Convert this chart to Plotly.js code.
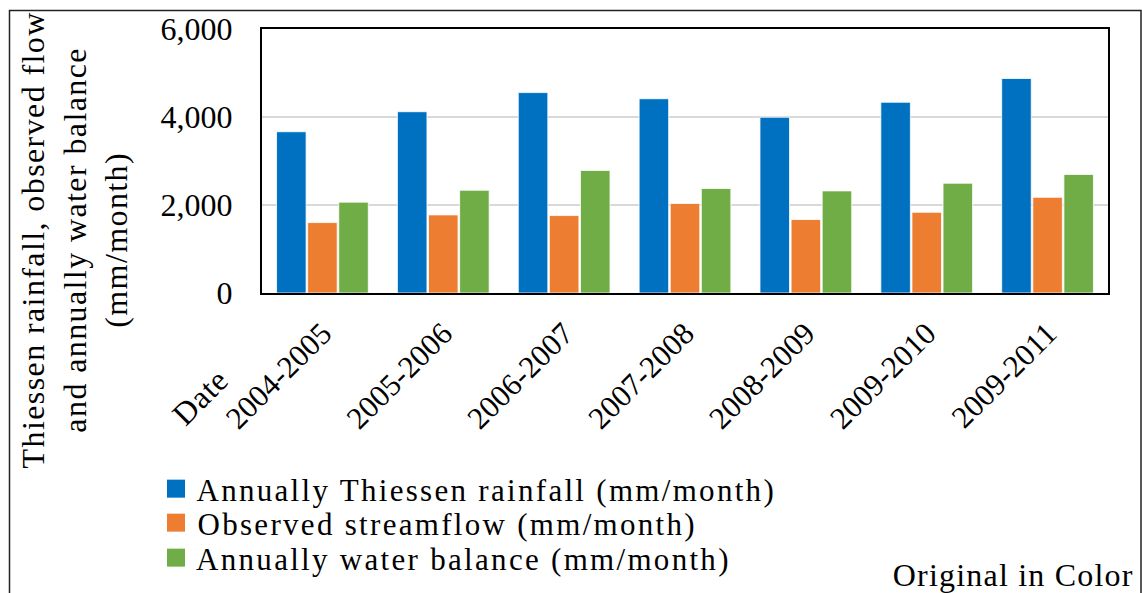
<!DOCTYPE html>
<html>
<head>
<meta charset="utf-8">
<script src="https://cdn.plot.ly/plotly-3.0.1.min.js"></script>
<style>
  html, body { margin: 0; padding: 0; background: #fff; }
  #chart { width: 1142px; height: 593px; }
  .annotation[data-index="0"] .annotation-text { letter-spacing: 1.4px; }
  .annotation[data-index="1"] .annotation-text { letter-spacing: 0.8px; }
  .annotation[data-index="2"] .annotation-text { letter-spacing: 1.2px; }
  .annotation[data-index="3"] .annotation-text,
  .annotation[data-index="4"] .annotation-text,
  .annotation[data-index="5"] .annotation-text { letter-spacing: 2.3px; }
  .infolayer g[class*="legend"] text, text.legendtext { display: none; }
</style>
</head>
<body>
<div id="chart"></div>
<script>
const categories = ["2004-2005", "2005-2006", "2006-2007", "2007-2008", "2008-2009", "2009-2010", "2009-2011"];
const rainfall = [3665, 4120, 4555, 4415, 3995, 4335, 4875];
const streamflow = [1600, 1775, 1760, 2035, 1670, 1835, 2175];
const waterBalance = [2065, 2335, 2785, 2375, 2320, 2495, 2695];
const seriesNames = ["Annually Thiessen rainfall (mm/month)", "Observed streamflow (mm/month)", "Annually water balance (mm/month)"];
const yTicks = [0, 2000, 4000, 6000];

const FONT = "Liberation Serif, Times New Roman, serif";
const colors = ["#0070C0", "#ED7D31", "#70AD47"];
const series = [rainfall, streamflow, waterBalance];
const legendIds = ["legend", "legend2", "legend3"];

const traces = series.map((vals, i) => ({
  type: "bar",
  x: categories,
  y: vals,
  name: seriesNames[i],
  legend: legendIds[i],
  marker: { color: colors[i], line: { color: "#ffffff", width: 0.8 } },
  hoverinfo: "skip"
}));

const L = 262, R = 34, T = 29, B = 300;
const W = 1142, H = 593;
const pw = W - L - R, ph = H - T - B;
const px = x => (x - L) / pw;
const py = y => (H - B - y) / ph;

const legendRowsY = [489, 523, 558];
const legendLabelCenters = [485.5, 447, 463];
function legendCfg(yPix) {
  return {
    x: px(156), y: py(yPix), xanchor: "left", yanchor: "middle",
    font: { family: FONT, size: 31, color: "#000" },
    itemwidth: 30, bgcolor: "rgba(0,0,0,0)", borderwidth: 0
  };
}

const legendLabels = seriesNames.map((name, i) => ({
  text: name,
  xref: "paper", yref: "paper", x: px(legendLabelCenters[i]), y: py(legendRowsY[i] + 1),
  xanchor: "center", yanchor: "middle",
  showarrow: false,
  font: { family: FONT, size: 31, color: "#000" }
}));

const layout = {
  width: W, height: H,
  margin: { l: L, r: R, t: T, b: B, pad: 0, autoexpand: false },
  paper_bgcolor: "#ffffff",
  plot_bgcolor: "#ffffff",
  font: { family: FONT, size: 30, color: "#000" },
  barmode: "group",
  bargap: 0.228,
  bargroupgap: 0.05,
  showlegend: true,
  legend: legendCfg(legendRowsY[0]),
  legend2: legendCfg(legendRowsY[1]),
  legend3: legendCfg(legendRowsY[2]),
  xaxis: {
    type: "category",
    tickangle: -45,
    tickfont: { family: FONT, size: 31, color: "#000" },
    showline: true, linecolor: "#000", linewidth: 2, mirror: true,
    ticks: "", showgrid: false,
    ticklabelstandoff: 8
  },
  yaxis: {
    range: [0, 6000],
    tickvals: yTicks,
    ticktext: yTicks.map(v => v.toLocaleString("en-US")),
    tickfont: { family: FONT, size: 32, color: "#000" },
    showline: true, linecolor: "#000", linewidth: 2, mirror: true,
    ticks: "", showgrid: true, gridcolor: "#d9d9d9", gridwidth: 2,
    zeroline: false,
    ticklabelstandoff: 21
  },
  annotations: [
    {
      text: "Thiessen rainfall, observed flow<br>and annually water balance<br>(mm/month)",
      xref: "paper", yref: "paper", x: px(74), y: py(240),
      xanchor: "center", yanchor: "middle", textangle: -90,
      showarrow: false, align: "center",
      font: { family: FONT, size: 32, color: "#000" }
    },
    {
      text: "Date",
      xref: "paper", yref: "paper", x: px(200), y: py(397),
      xanchor: "center", yanchor: "middle", textangle: -45,
      showarrow: false,
      font: { family: FONT, size: 32, color: "#000" }
    },
    {
      text: "Original in Color",
      xref: "paper", yref: "paper", x: px(1013), y: py(575),
      xanchor: "center", yanchor: "middle",
      showarrow: false,
      font: { family: FONT, size: 32, color: "#000" }
    }
  ].concat(legendLabels),
  shapes: [
    {
      type: "rect", xref: "paper", yref: "paper", layer: "below",
      x0: px(9.5), x1: px(1141), y0: py(620), y1: py(10.5),
      line: { color: "#222", width: 1.5 }, fillcolor: "rgba(0,0,0,0)"
    }
  ]
};

function tidyLegend() {
  document.querySelectorAll(".legendpoints path").forEach(p => {
    p.setAttribute("d", "M9,9H-9V-9H9Z");
    p.style.strokeWidth = "0";
  });
  // legend labels are drawn as annotations (for spacing control); drop the duplicate legend texts
  document.querySelectorAll(".infolayer g").forEach(g => {
    const cls = g.getAttribute("class") || "";
    if (/^legend\d*$/.test(cls)) g.querySelectorAll("text").forEach(t => t.remove());
  });
  document.querySelectorAll("text.legendtext").forEach(t => t.remove());
}

Plotly.newPlot("chart", traces, layout, { displayModeBar: false, staticPlot: true }).then(() => {
  tidyLegend();
  setTimeout(tidyLegend, 50);
  setTimeout(tidyLegend, 300);
});
</script>
</body>
</html>
